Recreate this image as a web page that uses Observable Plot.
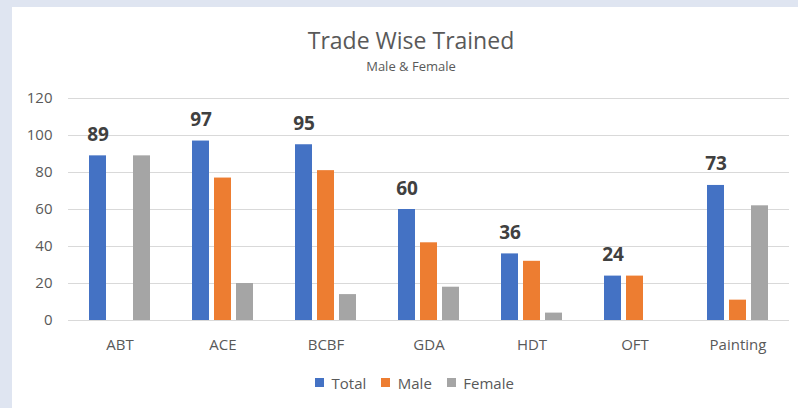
<!DOCTYPE html>
<html><head><meta charset="utf-8">
<script src="https://cdn.jsdelivr.net/npm/d3@7"></script>
<script src="https://cdn.jsdelivr.net/npm/@observablehq/plot@0.6"></script>
<style>
html,body{margin:0;padding:0;}
body{background:#dfe5f1;width:798px;height:408px;overflow:hidden;position:relative;font-family:"Open Sans",sans-serif;}
#panel{position:absolute;left:12px;top:7px;width:786px;height:401px;background:#fff;}
#title{position:absolute;left:0;top:29px;width:822px;text-align:center;font-size:23px;line-height:23px;color:#595959;}
#subtitle{position:absolute;left:0;top:60px;width:822px;text-align:center;font-size:13px;line-height:13px;color:#595959;}
#chart{position:absolute;left:0;top:80px;}
#legend{position:absolute;left:315px;top:366px;}
</style></head>
<body>
<div id="panel"></div>
<div id="title">Trade Wise Trained</div>
<div id="subtitle">Male &amp; Female</div>
<div id="chart"></div>
<div id="legend"></div>
<script>
const categories = ["ABT","ACE","BCBF","GDA","HDT","OFT","Painting"];
const series = ["Total","Male","Female"];
const total = [89,97,95,60,36,24,73];
const male = [0,77,81,42,32,24,11];
const female = [89,20,14,18,4,0,62];
const yTicks = [0,20,40,60,80,100,120];
const colors = ["#4472C4","#ED7D31","#A5A5A5"];

const data = categories.flatMap((c,i)=>[
  {cat:c, series:"Total", value:total[i]},
  {cat:c, series:"Male", value:male[i]},
  {cat:c, series:"Female", value:female[i]}
]);

const font = '"Open Sans", sans-serif';
const chart = Plot.plot({
  width:798, height:280,
  marginLeft:68, marginRight:9, marginTop:18, marginBottom:40,
  style:{fontFamily:font, fontSize:"15px", color:"#595959", background:"transparent", overflow:"visible"},
  fx:{domain:categories, padding:0, label:null, axis:"bottom", tickSize:0, tickPadding:19},
  x:{domain:series, axis:null, paddingInner:0.217, paddingOuter:0.848},
  y:{domain:[0,120], ticks:yTicks, label:null, tickSize:0, tickPadding:16},
  color:{domain:series, range:colors},
  marks:[
    Plot.ruleY(yTicks,{stroke:"#d9d9d9", strokeWidth:1}),
    Plot.barY(data,{fx:"cat", x:"series", y:"value", fill:"series"}),
    Plot.text(data.filter(d=>d.series==="Total"),{fx:"cat", x:"series", y:"value", text:d=>String(d.value), dy:-15, lineAnchor:"bottom", fontWeight:"bold", fontSize:19, fill:"#404040"})
  ]
});
document.getElementById("chart").appendChild(chart);

const legend = Plot.legend({
  color:{domain:series, range:colors},
  legend:"swatches", swatchSize:9,
  style:{fontFamily:font, fontSize:"15px", color:"#595959"}
});
document.getElementById("legend").appendChild(legend);
</script>
</body></html>
